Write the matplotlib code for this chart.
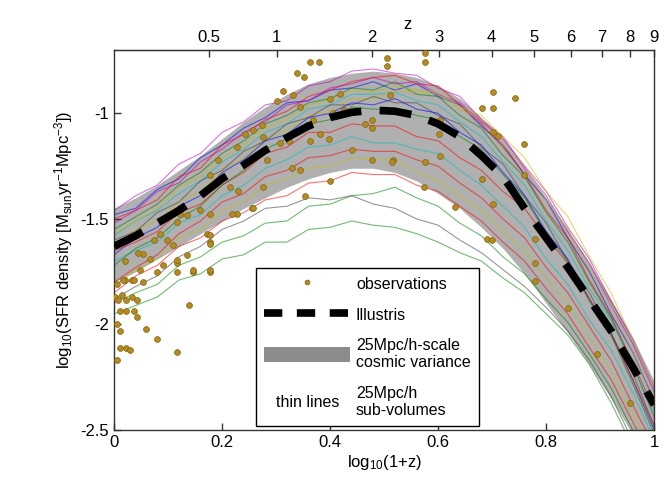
import numpy as np
import matplotlib
matplotlib.use("Agg")
import matplotlib.pyplot as plt
import matplotlib.text as mtext
from matplotlib.legend_handler import HandlerBase
from matplotlib.lines import Line2D
from matplotlib.patches import Patch

plt.rcParams['font.family'] = ['Liberation Sans', 'DejaVu Sans']
plt.rcParams['mathtext.default'] = 'regular'

# ---------------- data ----------------
xg = [0, .04, .08, .12, .16, .20, .24, .28, .32, .36, .40, .44, .48, .52,
      .56, .60, .64, .68, .72, .76, .80, .84, .88, .92, .96, 1.00]

illustris = [-1.63, -1.58, -1.52, -1.46, -1.39, -1.31, -1.245, -1.175, -1.115,
             -1.06, -1.02, -0.995, -0.985, -0.99, -1.01, -1.05, -1.11, -1.20,
             -1.30, -1.45, -1.59, -1.73, -1.88, -2.03, -2.20, -2.38]

band_upper = [-1.45, -1.40, -1.34, -1.27, -1.20, -1.12, -1.04, -0.97, -0.91,
              -0.86, -0.83, -0.81, -0.80, -0.81, -0.83, -0.87, -0.93, -1.02,
              -1.12, -1.26, -1.40, -1.55, -1.71, -1.88, -2.06, -2.27]
band_lower = [-1.80, -1.75, -1.69, -1.63, -1.57, -1.51, -1.45, -1.40, -1.35,
              -1.31, -1.28, -1.26, -1.26, -1.28, -1.32, -1.38, -1.45, -1.54,
              -1.64, -1.76, -1.90, -2.04, -2.19, -2.35, -2.52, -2.70]

sub_blue1 = [-1.48, -1.45, -1.36, -1.31, -1.21, -1.15, -1.07, -1.02, -0.95, -0.94, -0.89, -0.88, -0.85,
             -0.89, -0.86, -0.92, -0.96, -1.06, -1.15, -1.29, -1.41, -1.59, -1.75, -1.95, -2.13, -2.36]
sub_magenta1 = [-1.46, -1.39, -1.34, -1.24, -1.19, -1.09, -1.04, -0.96, -0.94, -0.87, -0.85, -0.80, -0.79,
                -0.81, -0.82, -0.88, -0.92, -1.03, -1.11, -1.26, -1.39, -1.56, -1.71, -1.91, -2.09, -2.32]
sub_red1 = [-1.50, -1.46, -1.41, -1.30, -1.26, -1.15, -1.10, -1.03, -0.99, -0.92, -0.89, -0.85, -0.83,
            -0.82, -0.86, -0.87, -0.96, -1.05, -1.16, -1.29, -1.46, -1.59, -1.79, -1.96, -2.18, -2.40]
sub_cyan1 = [-1.58, -1.51, -1.46, -1.38, -1.32, -1.23, -1.17, -1.09, -1.05, -0.98, -0.96, -0.91, -0.91,
             -0.90, -0.94, -0.96, -1.04, -1.11, -1.23, -1.34, -1.51, -1.65, -1.83, -1.98, -2.19, -2.42]
sub_green1 = [-1.55, -1.49, -1.43, -1.34, -1.28, -1.19, -1.13, -1.05, -1.01, -0.95, -0.93, -0.88, -0.89,
              -0.85, -0.91, -0.92, -1.01, -1.07, -1.20, -1.30, -1.47, -1.61, -1.80, -1.97, -2.19, -2.44]
sub_olive1 = [-1.62, -1.55, -1.51, -1.42, -1.37, -1.27, -1.21, -1.12, -1.08, -1.01, -0.99, -0.93, -0.93,
              -0.89, -0.90, -0.91, -0.98, -1.03, -1.15, -1.25, -1.41, -1.55, -1.74, -1.91, -2.13, -2.35]
sub_gray1 = [-1.60, -1.56, -1.47, -1.42, -1.32, -1.27, -1.18, -1.13, -1.05, -1.02, -0.96, -0.96, -0.92,
             -0.95, -0.95, -1.01, -1.05, -1.16, -1.24, -1.39, -1.52, -1.70, -1.85, -2.05, -2.23, -2.48]
sub_blue2 = [-1.67, -1.59, -1.54, -1.44, -1.39, -1.28, -1.22, -1.13, -1.10, -1.02, -1.00, -0.95, -0.96,
             -0.93, -0.98, -1.00, -1.09, -1.15, -1.28, -1.39, -1.56, -1.69, -1.88, -2.04, -2.26, -2.50]
sub_magenta2 = [-1.52, -1.46, -1.37, -1.33, -1.23, -1.17, -1.09, -1.04, -0.96, -0.94, -0.88, -0.86, -0.83,
                -0.86, -0.85, -0.91, -0.95, -1.04, -1.12, -1.25, -1.37, -1.54, -1.69, -1.89, -2.07, -2.30]
sub_red2 = [-1.65, -1.61, -1.56, -1.47, -1.43, -1.34, -1.28, -1.19, -1.16, -1.09, -1.09, -1.05, -1.06,
            -1.06, -1.11, -1.13, -1.21, -1.27, -1.37, -1.45, -1.59, -1.71, -1.88, -2.04, -2.26, -2.48]
sub_cyan2 = [-1.70, -1.65, -1.61, -1.52, -1.48, -1.39, -1.34, -1.26, -1.22, -1.16, -1.15, -1.11, -1.14,
             -1.14, -1.17, -1.19, -1.27, -1.34, -1.44, -1.54, -1.69, -1.81, -1.98, -2.12, -2.32, -2.55]
sub_green2 = [-1.72, -1.64, -1.59, -1.50, -1.44, -1.34, -1.27, -1.17, -1.12, -1.05, -1.03, -0.97, -0.98,
              -0.98, -1.01, -1.03, -1.11, -1.17, -1.29, -1.40, -1.57, -1.70, -1.89, -2.05, -2.28, -2.52]
sub_olive2 = [-1.57, -1.51, -1.45, -1.35, -1.30, -1.21, -1.15, -1.07, -1.03, -0.96, -0.94, -0.89, -0.90,
              -0.87, -0.89, -0.90, -0.97, -1.01, -1.11, -1.21, -1.37, -1.49, -1.68, -1.85, -2.07, -2.30]
sub_red3 = [-1.85, -1.77, -1.72, -1.63, -1.59, -1.51, -1.47, -1.41, -1.39, -1.33, -1.32, -1.28, -1.29,
            -1.29, -1.34, -1.37, -1.44, -1.51, -1.61, -1.70, -1.83, -1.95, -2.11, -2.26, -2.46, -2.66]
sub_green3 = [-1.90, -1.85, -1.81, -1.72, -1.68, -1.61, -1.58, -1.52, -1.51, -1.44, -1.43, -1.39, -1.38,
              -1.35, -1.40, -1.44, -1.52, -1.58, -1.68, -1.76, -1.88, -1.99, -2.14, -2.30, -2.50, -2.70]
sub_green4 = [-1.95, -1.91, -1.87, -1.79, -1.76, -1.69, -1.67, -1.61, -1.61, -1.55, -1.54, -1.51, -1.53,
              -1.54, -1.57, -1.61, -1.66, -1.70, -1.78, -1.85, -1.95, -2.05, -2.19, -2.37, -2.58, -2.80]
sub_gray2 = [-1.88, -1.82, -1.77, -1.68, -1.63, -1.55, -1.51, -1.45, -1.44, -1.40, -1.41, -1.39, -1.43,
             -1.45, -1.50, -1.53, -1.60, -1.66, -1.74, -1.82, -1.92, -2.03, -2.17, -2.34, -2.55, -2.75]
sub_olive3 = [-1.82, -1.74, -1.69, -1.59, -1.55, -1.46, -1.42, -1.34, -1.31, -1.26, -1.25, -1.21, -1.22,
              -1.22, -1.28, -1.32, -1.39, -1.46, -1.56, -1.65, -1.78, -1.90, -2.06, -2.22, -2.42, -2.62]
sub_red4 = [-1.80, -1.73, -1.67, -1.57, -1.51, -1.42, -1.38, -1.30, -1.27, -1.21, -1.20, -1.17, -1.18,
            -1.18, -1.22, -1.25, -1.33, -1.40, -1.50, -1.59, -1.73, -1.85, -2.01, -2.17, -2.38, -2.58]

obs_x = [0.002, 0.008, 0.014, 0.023, 0.033, 0.042, 0.011, 0.023, 0.036, 0.042, 0.005, 0.011,
         0.060, 0.079, 0.011, 0.023, 0.030, 0.116, 0.138, 0.005, 0.033, 0.054, 0.079, 0.116,
         0.116, 0.135, 0.147, 0.178, 0.178, 0.172, 0.159, 0.135, 0.227, 0.255, 0.005, 0.020,
         0.363, 0.380, 0.338, 0.352, 0.312, 0.301, 0.332, 0.400, 0.344, 0.273, 0.258, 0.276,
         0.243, 0.227, 0.193, 0.178, 0.215, 0.230, 0.258, 0.276, 0.283, 0.280, 0.307, 0.323,
         0.329, 0.344, 0.363, 0.381, 0.397, 0.369, 0.357, 0.406, 0.425, 0.465, 0.477, 0.477,
         0.440, 0.477, 0.517, 0.400, 0.354, 0.505, 0.506, 0.511, 0.419, 0.218, 0.178, 0.122,
         0.116, 0.085, 0.098, 0.110, 0.073, 0.054, 0.067, 0.116, 0.048, 0.178, 0.178, 0.178,
         0.147, 0.017, 0.036, 0.576, 0.576, 0.701, 0.743, 0.681, 0.701, 0.702, 0.710, 0.758,
         0.602, 0.604, 0.576, 0.514, 0.681, 0.702, 0.758, 0.631, 0.690, 0.700, 0.780, 0.780,
         0.780, 0.573, 0.604, 0.840, 0.894, 0.956, 0.020, 0.045, 0.090]
obs_y = [-1.87, -1.886, -1.862, -1.886, -1.87, -1.886, -1.934, -1.934, -1.934, -1.965, -1.997, -2.03,
         -2.02, -2.07, -2.11, -2.11, -2.12, -2.13, -1.91, -2.17, -1.79, -1.80, -1.75, -1.75,
         -1.71, -1.67, -1.75, -1.75, -1.61, -1.57, -1.46, -1.48, -1.475, -1.45, -1.81, -1.79,
         -0.757, -0.757, -0.81, -0.83, -0.894, -0.94, -0.915, -0.93, -0.97, -1.057, -1.08, -1.11,
         -1.10, -1.16, -1.22, -1.29, -1.35, -1.37, -1.45, -1.35, -1.22, -1.175, -1.14, -1.13,
         -1.26, -1.27, -1.13, -1.10, -1.12, -1.03, -1.057, -1.00, -0.985, -1.05, -1.03, -1.07,
         -1.175, -1.22, -1.22, -1.32, -1.39, -0.74, -0.777, -0.915, -0.907, -1.475, -1.475, -1.475,
         -1.515, -1.57, -1.60, -1.625, -1.60, -1.665, -1.69, -1.697, -1.744, -1.744, -1.578, -1.62,
         -1.744, -1.79, -1.79, -0.714, -0.758, -0.899, -0.926, -0.975, -0.975, -1.089, -1.109, -1.144,
         -1.096, -1.20, -1.23, -1.23, -1.31, -1.43, -1.29, -1.444, -1.594, -1.60, -1.594, -1.71,
         -1.795, -1.35, -1.03, -1.92, -2.14, -2.37, -1.70, -1.66, -1.72]

z_ticks = [0.5, 1, 2, 3, 4, 5, 6, 7, 8, 9]
x_ticks = [0, 0.2, 0.4, 0.6, 0.8, 1]
y_ticks = [-2.5, -2, -1.5, -1]

# ---------------- figure ----------------
fig = plt.figure(figsize=(6.71, 5.0), dpi=100)
ax = fig.add_axes([0.170, 0.14, 0.805, 0.76])

ax.fill_between(xg, band_lower, band_upper, color='#b0b0b0', lw=0, zorder=1)

sub_lines = [
    (sub_blue1, '#0000ff'), (sub_magenta1, '#bf00bf'), (sub_red1, '#ff0000'),
    (sub_cyan1, '#00bfbf'), (sub_green1, '#008000'), (sub_olive1, '#bfbf00'),
    (sub_gray1, '#404040'), (sub_blue2, '#0000ff'), (sub_magenta2, '#bf00bf'),
    (sub_red2, '#ff0000'), (sub_cyan2, '#00bfbf'), (sub_green2, '#008000'),
    (sub_olive2, '#bfbf00'), (sub_red3, '#ff0000'), (sub_green3, '#008000'),
    (sub_green4, '#008000'), (sub_gray2, '#404040'), (sub_olive3, '#bfbf00'),
    (sub_red4, '#ff0000'),
]
for vals, c in sub_lines:
    ax.plot(xg, vals, color=c, lw=0.8, alpha=0.55, zorder=2)

ax.plot(obs_x, obs_y, 'o', ms=4.2, mfc='#b38b22', mec='#7d6210', mew=0.5, zorder=3,
        ls='none')

ax.plot(xg, illustris, color='black', lw=5.5, dashes=(4.2, 2.4),
        solid_capstyle='butt', dash_capstyle='butt', zorder=4)

ax.set_xlim(0, 1)
ax.set_ylim(-2.5, -0.7)
ax.set_xticks(x_ticks)
ax.set_xticklabels(['0', '0.2', '0.4', '0.6', '0.8', '1'])
ax.set_yticks(y_ticks)
ax.set_yticklabels(['-2.5', '-2', '-1.5', '-1'])
ax.tick_params(direction='in', length=5, labelsize=12, width=1, color='#333333')
for s in ax.spines.values():
    s.set_linewidth(1.0)
    s.set_color('#333333')

ax.set_xlabel(r'log$_{10}$(1+z)', fontsize=12, labelpad=2)
ax.set_ylabel(r'log$_{10}$(SFR density [M$_{sun}$yr$^{-1}$Mpc$^{-3}$])', fontsize=12, labelpad=4)

secax = ax.secondary_xaxis('top', functions=(lambda x: 10**x - 1,
                                             lambda z: np.log10(1 + np.clip(z, -0.999, None))))
secax.set_xticks(z_ticks)
secax.set_xticklabels(['0.5', '1', '2', '3', '4', '5', '6', '7', '8', '9'])
secax.tick_params(direction='in', length=5, labelsize=12, width=1, color='#333333')
secax.set_xlabel('z', fontsize=12, labelpad=1)
secax.xaxis.label.set_x(0.543)


class TextHandler(HandlerBase):
    def create_artists(self, legend, orig_handle, xdescent, ydescent, width, height,
                       fontsize, trans):
        t = mtext.Text(width / 2 - xdescent, height / 2 - ydescent,
                       orig_handle.get_text(), ha='center', va='center',
                       fontsize=fontsize, transform=trans)
        return [t]


h_obs = Line2D([], [], marker='o', ls='none', ms=3.5, mfc='#b38b22', mec='#7d6210', mew=0.5)
h_ill = Line2D([], [], color='black', lw=5.5, dashes=(2.4, 1.9), dash_capstyle='butt')
h_band = Patch(facecolor='#8c8c8c', edgecolor='none')
h_thin = mtext.Text(0, 0, 'thin lines')

leg = ax.legend([h_obs, h_ill, h_band, h_thin],
                ['observations', 'Illustris', '25Mpc/h-scale\ncosmic variance',
                 '25Mpc/h\nsub-volumes'],
                handler_map={mtext.Text: TextHandler()},
                loc='lower left', bbox_to_anchor=(0.263, 0.0105),
                fontsize=11.5, handlelength=5.4, handleheight=1.1, handletextpad=0.35,
                labelspacing=0.95, borderpad=0.5, borderaxespad=0, frameon=True,
                fancybox=False, edgecolor='black', framealpha=1)
leg.get_frame().set_linewidth(1.0)
leg.set_zorder(10)

fig.savefig('out.png', dpi=100)
